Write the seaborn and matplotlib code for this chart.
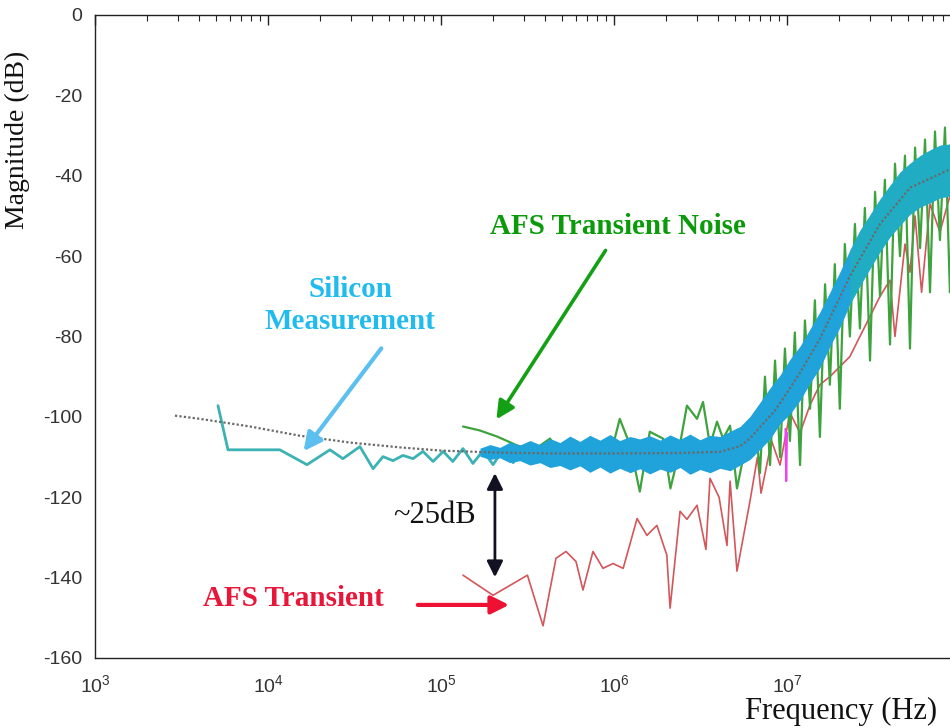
import numpy as np
import matplotlib
matplotlib.use("Agg")
import matplotlib.pyplot as plt
import seaborn as sns

# --- data (Hz, dB) ---
model_f = [2.9e3, 4.05e3, 7.87e3, 1.53e4, 2.98e4, 5.8e4, 1.0e5, 2.19e5, 4.27e5, 1.0e6,
           2.41e6, 4.1e6, 5.36e6, 6.11e6, 7.0e6, 8.5e6, 1.0e7, 1.19e7, 1.55e7, 2.31e7,
           3.45e7, 5.14e7, 8.75e7, 1.0e8]
model_db = [-99.7, -100.5, -102.4, -104.7, -106.4, -107.6, -108.4, -108.9, -109.1, -109.1,
            -109.0, -108.7, -107.3, -105.4, -102.5, -98.5, -94.0, -89.0, -80.6, -65.0,
            -52.0, -43.0, -38.4, -38.1]

teal_f = [5.14e3, 5.87e3, 8.4e3, 1.17e4, 1.68e4, 2.28e4, 2.71e4, 3.40e4, 4.05e4, 4.62e4,
          5.28e4, 6.03e4, 6.89e4, 7.87e4, 9.0e4, 1.03e5, 1.17e5, 1.34e5, 1.53e5, 1.75e5,
          2.0e5, 2.28e5, 2.61e5, 2.98e5, 3.40e5, 3.89e5, 4.44e5, 5.07e5, 5.8e5, 6.62e5,
          7.56e5, 8.64e5]
teal_db = [-97.2, -108.2, -108.2, -108.2, -111.9, -108.2, -110.4, -107.4, -112.9, -109.9,
           -110.9, -109.6, -110.4, -108.6, -111.1, -108.6, -111.1, -107.9, -111.6, -108.4,
           -111.9, -108.2, -111.4, -108.4, -111.1, -108.2, -110.9, -108.4, -110.7, -108.6,
           -110.4, -108.4]

band_f = [1.68e5, 1.92e5, 2.19e5, 2.50e5, 2.86e5, 3.27e5, 3.73e5, 4.27e5, 4.87e5, 5.56e5,
          6.36e5, 7.26e5, 8.30e5, 9.48e5, 1.08e6, 1.24e6, 1.41e6, 1.61e6, 1.85e6, 2.11e6,
          2.41e6, 2.75e6, 3.14e6, 3.59e6, 4.10e6, 4.69e6, 5.36e6, 6.11e6, 6.98e6, 7.98e6,
          9.12e6, 1.04e7, 1.19e7, 1.36e7, 1.55e7, 1.77e7, 2.03e7, 2.31e7, 2.64e7, 3.02e7,
          3.45e7, 3.94e7, 4.50e7, 5.14e7, 5.88e7, 6.71e7, 7.67e7, 8.76e7, 1.0e8]
band_hi = [-107.8, -106.9, -107.6, -106.3, -107.0, -105.9, -106.9, -105.4, -106.4, -104.8,
           -106.1, -104.6, -105.8, -104.4, -105.9, -104.9, -105.5, -104.7, -105.8, -104.5,
           -105.6, -104.3, -105.7, -104.6, -104.9, -103.6, -102.4, -99.9, -96.4, -92.8,
           -89.6, -85.7, -82.4, -78.1, -73.9, -69.0, -63.8, -58.5, -53.6, -49.7,
           -45.8, -42.4, -39.1, -36.9, -35.0, -33.6, -32.4, -32.1, -31.8]
band_lo = [-109.8, -110.6, -110.2, -111.4, -110.9, -112.0, -111.4, -112.6, -112.1, -113.2,
           -112.2, -113.8, -112.5, -114.0, -112.8, -113.9, -112.9, -114.2, -113.0, -113.8,
           -112.6, -114.3, -113.1, -113.9, -112.8, -113.4, -112.0, -110.6, -108.1, -105.5,
           -101.7, -99.3, -95.9, -91.6, -87.8, -82.5, -77.6, -71.9, -67.4, -63.1,
           -58.9, -55.2, -52.3, -49.6, -47.8, -46.7, -45.5, -45.0, -44.6]

green_f = [1.34e5, 1.68e5, 2.11e5, 2.75e5, 3.40e5, 4.27e5, 5.07e5, 5.80e5, 6.62e5, 7.56e5,
           9.12e5, 1.08e6, 1.24e6, 1.41e6, 1.61e6, 1.92e6, 2.12e6, 2.31e6, 2.64e6, 3.02e6,
           3.27e6, 3.59e6, 3.94e6, 4.27e6, 4.69e6, 5.14e6, 5.88e6,
           6.53e6, 6.98e6, 7.46e6, 7.98e6, 8.53e6, 9.12e6, 9.73e6, 1.04e7, 1.11e7, 1.19e7,
           1.27e7, 1.36e7, 1.45e7, 1.55e7, 1.66e7, 1.77e7, 1.89e7, 2.02e7, 2.16e7, 2.31e7,
           2.47e7, 2.64e7, 2.82e7, 3.02e7, 3.23e7, 3.45e7, 3.68e7, 3.94e7, 4.21e7, 4.50e7,
           4.81e7, 5.14e7, 5.50e7, 5.88e7, 6.28e7, 6.71e7, 7.17e7, 7.66e7, 8.19e7, 8.75e7,
           1.0e8]
green_db = [-102.4, -103.4, -104.9, -107.1, -108.4, -105.4, -110.4, -112.3, -107.1, -106.1,
            -112.9, -100.5, -107.1, -118.6, -103.7, -105.4, -117.8, -111.1, -97.2, -100.5,
            -96.3, -107.1, -101.2, -105.4, -102.2, -117.8, -105.4,
            -100.5, -114.0, -90.0, -112.0, -86.0, -110.0, -83.0, -106.0, -79.0, -112.0,
            -76.0, -98.0, -71.0, -105.0, -67.0, -92.0, -62.0, -98.0, -57.0, -80.0,
            -52.0, -78.0, -48.0, -86.0, -44.0, -70.0, -41.0, -82.0, -37.0, -60.0,
            -35.0, -83.0, -33.0, -58.0, -31.0, -69.0, -29.0, -56.0, -28.0, -69.0,
            -34.0]

red_f = [1.34e5, 2.0e5, 3.16e5, 3.89e5, 4.62e5, 5.28e5, 6.03e5, 6.62e5, 7.56e5, 8.64e5,
         9.87e5, 1.13e6, 1.36e6, 1.55e6, 1.77e6, 2.02e6, 2.11e6, 2.41e6, 2.64e6, 3.02e6,
         3.40e6, 3.59e6, 4.05e6, 4.50e6, 4.69e6, 5.14e6, 6.11e6, 6.75e6, 7.08e6, 8.15e6,
         9.12e6, 1.04e7, 1.19e7, 1.36e7, 1.55e7, 1.77e7, 2.31e7, 2.64e7, 3.02e7, 3.45e7,
         3.94e7, 4.21e7, 4.81e7, 5.14e7, 5.50e7, 6.00e7, 6.71e7, 7.66e7, 8.75e7, 1.0e8]
red_db = [-139.4, -144.4, -139.4, -152.0, -135.2, -133.5, -136.0, -143.1, -133.5, -137.7,
          -136.5, -137.7, -125.3, -129.5, -127.0, -134.4, -147.6, -123.5, -125.5, -122.0,
          -133.0, -115.3, -120.0, -132.0, -116.0, -138.4, -121.0, -110.0, -119.0, -106.0,
          -112.0, -99.0, -104.0, -97.0, -92.0, -90.0, -85.0, -80.0, -75.0, -70.0,
          -66.0, -80.0, -57.0, -64.0, -50.0, -69.0, -47.0, -54.0, -45.0, -44.0]

magenta_f = [9.8e6, 9.9e6, 1.0e7]
magenta_db = [-103.0, -116.0, -104.0]

xticks = [1e3, 1e4, 1e5, 1e6, 1e7]
yticks = [0, -20, -40, -60, -80, -100, -120, -140, -160]

sns.set_theme(style="white")
plt.rcParams["font.family"] = ["Liberation Sans", "DejaVu Sans"]
plt.rcParams["axes.unicode_minus"] = False

fig = plt.figure(figsize=(9.5, 7.28), dpi=100)
ax = fig.add_axes([0.1, 0.0962, 0.9105, 0.8832])
ax.set_xscale("log")

sns.lineplot(x=red_f, y=red_db, ax=ax, sort=False, estimator=None,
             color="#d2565a", lw=1.2, zorder=2)
sns.lineplot(x=green_f, y=green_db, ax=ax, sort=False, estimator=None,
             color="#3ea33e", lw=1.6, zorder=3)
sns.lineplot(x=magenta_f, y=magenta_db, ax=ax, sort=False, estimator=None,
             color="#ee44ee", lw=1.5, zorder=3)
sns.lineplot(x=teal_f, y=teal_db, ax=ax, sort=False, estimator=None,
             color="#3cb2b4", lw=2.0, zorder=4)
ax.fill_between(band_f, band_lo, band_hi, color="#1fa3da", lw=0, zorder=5)
ax.fill_between(band_f[-12:], band_lo[-12:], band_hi[-12:],
                color="#22b5b5", alpha=0.6, lw=0, zorder=5)
sns.lineplot(x=model_f, y=model_db, ax=ax, sort=False, estimator=None,
             color="#6a6a6a", lw=1.6, linestyle=(0, (1, 1)), zorder=6)

ax.set_xlim(1e3, 1e8)
ax.set_ylim(-160, 0)
ax.set_xticks(xticks)
ax.set_yticks(yticks)
for s in ax.spines.values():
    s.set_color("#222222")
    s.set_linewidth(1.0)
ax.tick_params(which="both", direction="in", top=True, right=True,
               colors="#222222", labelcolor="#333333", labelsize=14)
ax.tick_params(which="major", length=7, width=1)
ax.tick_params(which="minor", length=4, width=0.8)
ax.tick_params(axis="y", pad=9)
ax.tick_params(axis="x", pad=12)

serif = ["Liberation Serif", "DejaVu Serif"]
ax.set_ylabel("Magnitude (dB)", family=serif, fontsize=20, color="#111111")
ax.yaxis.set_label_coords(-0.075, 0.806)
ax.set_xlabel("Frequency (Hz)", family=serif, fontsize=22, color="#111111")
ax.xaxis.set_label_coords(0.862, -0.06)

ax.text(2.98e4, -72.2, "Silicon\nMeasurement", family=serif, fontweight="bold",
        fontsize=21, color="#22bbee", ha="center", va="center", linespacing=1.25)
ax.text(1.05e6, -52.6, "AFS Transient Noise", family=serif, fontweight="bold",
        fontsize=21, color="#0a9a0a", ha="center", va="center")
ax.text(1.40e4, -145.1, "AFS Transient", family=serif, fontweight="bold",
        fontsize=21, color="#e8173a", ha="center", va="center")
ax.text(9.12e4, -124.5, "~25dB", family=serif, fontsize=22, color="#111111",
        ha="center", va="center")

ax.annotate("", xy=(1.57e4, -109.1), xytext=(4.62e4, -82.4),
            arrowprops=dict(arrowstyle="-|>,head_length=0.9,head_width=0.45",
                            color="#5bc0f0", lw=3), zorder=7)
ax.annotate("", xy=(2.05e5, -101.2), xytext=(9.12e5, -58.0),
            arrowprops=dict(arrowstyle="-|>,head_length=0.9,head_width=0.45",
                            color="#14a014", lw=2.6), zorder=7)
ax.annotate("", xy=(2.57e5, -146.8), xytext=(7.08e4, -146.8),
            arrowprops=dict(arrowstyle="-|>,head_length=0.9,head_width=0.45",
                            color="#ee1133", lw=3), zorder=7)
ax.annotate("", xy=(2.05e5, -113.3), xytext=(2.05e5, -140.6),
            arrowprops=dict(arrowstyle="<|-|>,head_length=0.8,head_width=0.4",
                            color="#111122", lw=2), zorder=7)

fig.savefig("out.png", dpi=100)
